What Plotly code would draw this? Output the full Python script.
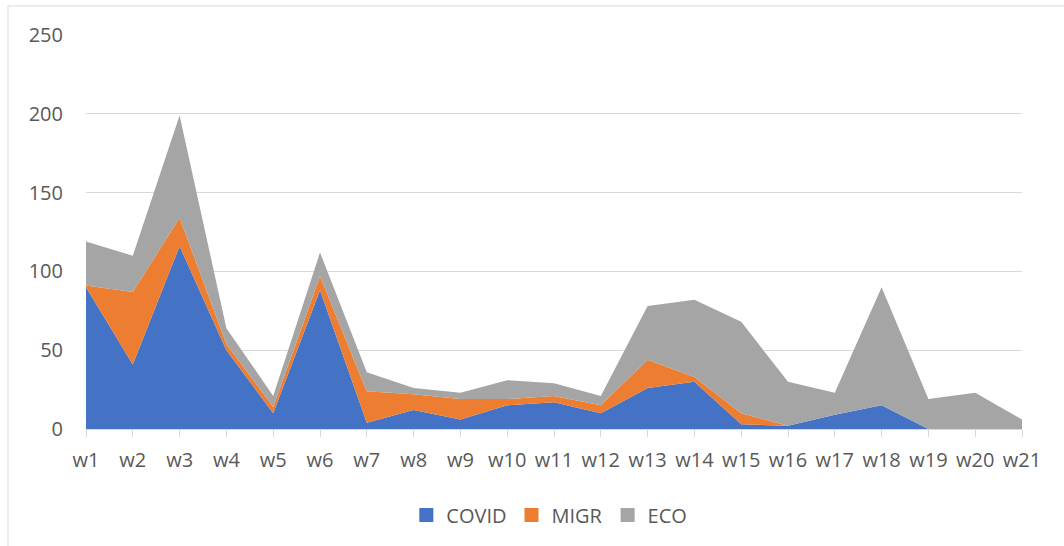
import plotly.graph_objects as go

weeks = ["w1","w2","w3","w4","w5","w6","w7","w8","w9","w10","w11","w12","w13","w14","w15","w16","w17","w18","w19","w20","w21"]
covid = [90,41,116,50,10,88,4,12,6,15,17,10,26,30,3,2,9,15,0,0,0]
migr = [1,46,18,4,4,9,20,10,13,4,4,5,18,3,7,0,0,0,0,0,0]
eco = [28,23,65,10,7,15,12,4,4,12,8,6,34,49,58,28,14,75,19,23,6]
y_ticks = [0, 50, 100, 150, 200, 250]

series = [("COVID", covid, "#4472C4"), ("MIGR", migr, "#ED7D31"), ("ECO", eco, "#A5A5A5")]

fig = go.Figure()
for name, vals, col in series:
    fig.add_trace(go.Scatter(
        x=weeks, y=vals, name=name, mode="lines", stackgroup="one",
        line=dict(width=0, color=col), fillcolor=col, hoverinfo="skip",
        showlegend=False))
# legend entries with square swatches
for name, vals, col in series:
    fig.add_trace(go.Scatter(
        x=[None], y=[None], name=name, mode="markers",
        marker=dict(symbol="square", size=14, color=col), hoverinfo="skip"))

font = dict(family="Open Sans", size=20, color="#595959")
fig.update_layout(
    width=1064, height=546,
    margin=dict(l=86, r=42, t=35, b=117),
    paper_bgcolor="white", plot_bgcolor="white",
    font=font,
    showlegend=True,
    legend=dict(orientation="h", x=0.495, xanchor="center", y=-0.218, yanchor="middle",
                font=font, itemwidth=30, traceorder="normal"),
    xaxis=dict(type="category", range=[0, 20], showgrid=False,
               showline=True, linecolor="#d9d9d9", linewidth=1,
               ticks="outside", ticklen=7, tickcolor="#d9d9d9", tickfont=font,
               ticklabelstandoff=6, fixedrange=True),
    yaxis=dict(range=[0, 250], tickvals=y_ticks, showgrid=True, gridcolor="#d9d9d9",
               gridwidth=1, zeroline=False, showline=False, ticks="",
               ticklabelstandoff=22, tickfont=font, fixedrange=True),
    shapes=[dict(type="rect", xref="paper", yref="paper",
                 x0=(8-86)/936, x1=(1070-86)/936, y0=(429-550)/394, y1=(429-6)/394,
                 line=dict(color="#d9d9d9", width=1), fillcolor="rgba(0,0,0,0)", layer="below")],
)
fig.write_html("out.html", config={"displayModeBar": False},
               post_script="document.body.style.margin='0';document.body.style.overflow='hidden';")
